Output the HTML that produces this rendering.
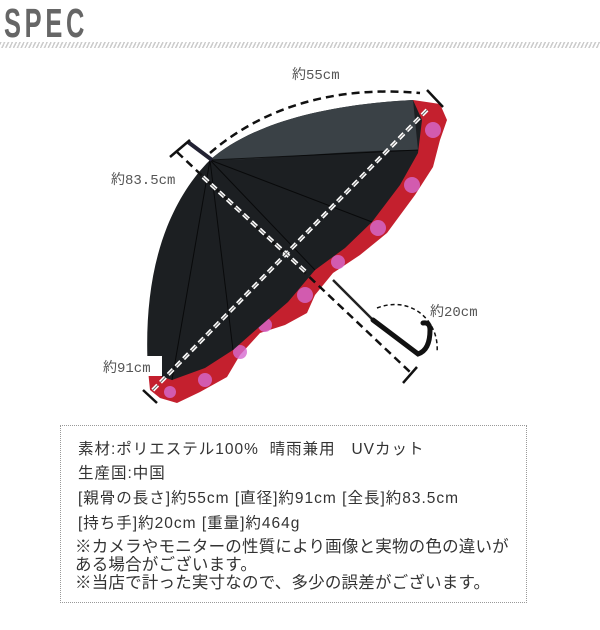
<!DOCTYPE html>
<html><head><meta charset="utf-8"><style>
body{margin:0;background:#fff;width:600px;height:630px;overflow:hidden;position:relative}
.spec{position:absolute;left:4px;top:0px;font:bold 41px "Liberation Sans Narrow","Liberation Sans",sans-serif;color:#666;transform:scaleX(0.62);transform-origin:0 0;letter-spacing:6px}
.hatch{position:absolute;left:0;top:42px;width:600px;height:6px;background:repeating-linear-gradient(115deg,#ccc 0 1.5px,#fff 1.5px 3.5px)}
.box{position:absolute;left:60px;top:425px;width:465px;height:176px;border:1px dotted #999;font-family:"Liberation Sans","Noto Sans CJK JP",sans-serif;color:#333;font-size:15.5px}
.box div{position:absolute;left:17px;white-space:nowrap;letter-spacing:1px}
.lab{font-family:"Liberation Mono","Noto Sans CJK JP",monospace;font-size:14px;fill:#555}
</style></head><body>
<div class="spec">SPEC</div>
<div class="hatch"></div>
<svg width="600" height="420" style="position:absolute;left:0;top:0">
<path d="M413,100 L440,104 L447,120 L440,140 L433,167 L415,195 L387,233 L360,255 L333,273 L315,295 L307,313 L285,325 L260,333 L240,355 L227,377 L200,392 L177,403 L160,398 L150,390 L148,370 Z" fill="#c4202e"/>
<g fill="#d66ad0" opacity="0.8"><circle cx="433" cy="130" r="8"/><circle cx="412" cy="185" r="8"/><circle cx="378" cy="228" r="8"/><circle cx="338" cy="262" r="7"/><circle cx="305" cy="295" r="8"/><circle cx="265" cy="325" r="7"/><circle cx="240" cy="352" r="7"/><circle cx="205" cy="380" r="7"/><circle cx="170" cy="392" r="6"/></g>
<path d="M210,160 C250,125 320,105 413,100 L422,120 L418,153 L400,185 L372,222 L345,248 L315,270 L288,302 L258,328 L233,350 L205,368 L172,380 L148,372 C145,320 150,270 167,227 C178,200 192,178 210,160 Z" fill="#1c1f22"/>
<path d="M210,160 C250,125 320,105 413,100 L418,150 C340,150 270,160 210,160Z" fill="#3a4146"/>
<g stroke="#000" stroke-width="1" fill="none" opacity="0.7"><path d="M210,160 L372,222"/><path d="M210,160 L315,270"/><path d="M210,160 L233,350"/><path d="M210,160 L172,380"/><path d="M210,160 L418,150"/></g>
<path d="M333,280 L373,320" stroke="#222" stroke-width="2.5"/>
<path d="M373,320 L418,354 Q430,350 430,330 Q430,322 423,323" stroke="#111" stroke-width="5" fill="none" stroke-linecap="round"/>
<path d="M188,142 L212,160" stroke="#223" stroke-width="4"/>
<g fill="none" stroke="#111" stroke-width="2.5" stroke-dasharray="8,5">
<path d="M210,153 C260,110 330,85 420,93"/>
<path d="M177,152 L410,372"/>
<path d="M377,308 C410,295 440,320 437,353" stroke-width="1.5" stroke-dasharray="4,3"/>
</g>
<g stroke="#111" stroke-width="2.5"><path d="M427,90 L443,107"/><path d="M170,157 L190,140"/><path d="M403,383 L417,367"/><path d="M143,390 L157,403"/></g>
<g fill="none" stroke="#fff" stroke-width="4" stroke-dasharray="7,4"><path d="M203,177 L307,273"/><path d="M427,110 L150,393"/></g>
<g fill="none" stroke="#666" stroke-width="1" stroke-dasharray="7,4"><path d="M203,177 L307,273"/><path d="M427,110 L150,393"/></g>
<rect x="286" y="64" width="64" height="20" fill="#fff"/>
<text class="lab" x="292" y="79">約55cm</text>
<text class="lab" x="111" y="184">約83.5cm</text>
<text class="lab" x="430" y="316">約20cm</text>
<rect x="100" y="356" width="62" height="20" fill="#fff"/>
<text class="lab" x="103" y="372">約91cm</text>
</svg>
<div class="box">
<div style="top:11px">素材:ポリエステル100%&nbsp; 晴雨兼用&nbsp;&nbsp; UVカット</div>
<div style="top:35px">生産国:中国</div>
<div style="top:60px">[親骨の長さ]約55cm [直径]約91cm [全長]約83.5cm</div>
<div style="top:85px">[持ち手]約20cm [重量]約464g</div>
<div style="top:112px;left:14px;font-size:16.5px;line-height:18px;letter-spacing:0.2px">※カメラやモニターの性質により画像と実物の色の違いが<br>ある場合がございます。<br>※当店で計った実寸なので、多少の誤差がございます。</div>
</div>
</body></html>
